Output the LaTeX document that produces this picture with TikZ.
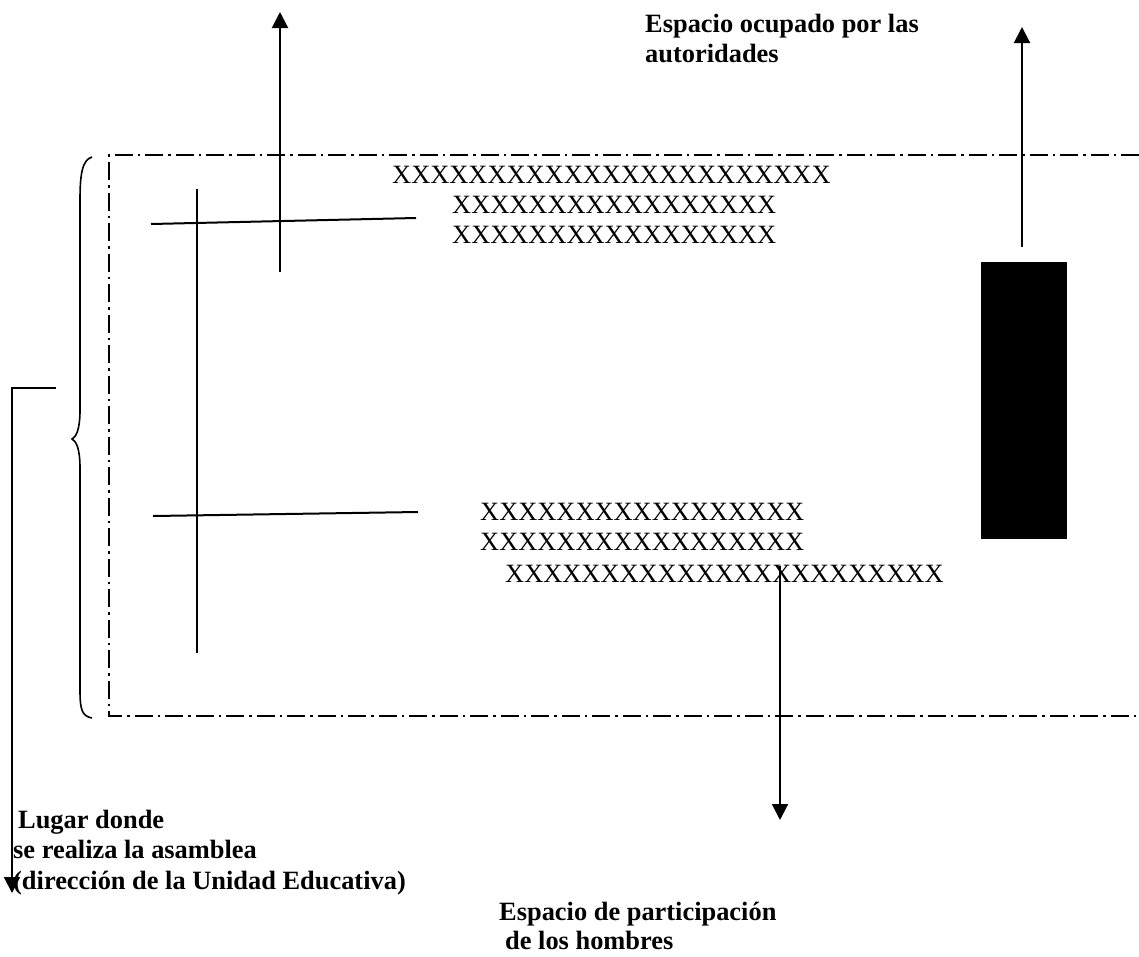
\documentclass[tikz,border=0pt]{standalone}
\usepackage{fontspec}
\setmainfont{Liberation Serif}
\usetikzlibrary{arrows.meta}
\tikzset{
	rotulo/.style ={anchor=base west, inner sep=0pt, font=\fontsize{26.4}{30}\selectfont\bfseries},
	fila/.style   ={anchor=base west, inner sep=0pt, font=\fontsize{26.4}{30}\selectfont},
	linea/.style  ={line width=2pt},
	flecha/.style ={line width=2pt, -{Triangle[length=16pt, width=16pt]}},
	limite/.style ={line width=1.6pt, dash pattern=on 18pt off 5pt on 2.5pt off 5pt},
	llave/.style  ={line width=1.6pt},
}
\begin{document}
\begin{tikzpicture}[x=1pt, y=-1pt]
	\useasboundingbox (0,0) rectangle (1139,956);
	% limite del patio (abierto a la derecha)
	\coordinate (limNE) at (1139,155);
	\coordinate (limNO) at (109,155);
	\coordinate (limSO) at (109,716);
	\coordinate (limSE) at (1139,716);
	\draw[limite] (limNE) -- (limNO) -- (limSO) -- (limSE);
	% llave izquierda
	\draw[llave] (92,157) .. controls (82,160) and (80,175) .. (80,200) -- (80,410)
		.. controls (80,430) and (76,437) .. (72,439)
		.. controls (76,441) and (80,448) .. (80,468) -- (80,690)
		.. controls (80,710) and (82,716) .. (92,718);
	% lugar de la asamblea
	\coordinate (lugA) at (56,388);
	\coordinate (lugB) at (12,388);
	\coordinate (lugC) at (12,893);
	\draw[flecha] (lugA) -- (lugB) -- (lugC);
	\node[rotulo] (lug1) at (18,828) {Lugar donde};
	\node[rotulo] (lug2) at (13,858) {se realiza la asamblea};
	\node[rotulo] (lug3) at (13,889) {(dirección de la Unidad Educativa)};
	% mastil y lineas
	\coordinate (mastA) at (197,189);
	\coordinate (mastB) at (197,653);
	\draw[linea] (mastA) -- (mastB);
	\coordinate (linA1) at (151,224);
	\coordinate (linA2) at (416,218);
	\draw[linea] (linA1) -- (linA2);
	\coordinate (linB1) at (153,516);
	\coordinate (linB2) at (418,512);
	\draw[linea] (linB1) -- (linB2);
	% flecha superior izquierda
	\coordinate (supA) at (280,272);
	\coordinate (supB) at (280,12);
	\draw[flecha] (supA) -- (supB);
	% filas de participantes
	\node[fila] (fil1) at (392,183) {XXXXXXXXXXXXXXXXXXXXXXX};
	\node[fila] (fil2) at (452,213) {XXXXXXXXXXXXXXXXX};
	\node[fila] (fil3) at (452,243) {XXXXXXXXXXXXXXXXX};
	\node[fila] (fil4) at (480,520) {XXXXXXXXXXXXXXXXX};
	\node[fila] (fil5) at (480,550) {XXXXXXXXXXXXXXXXX};
	\node[fila] (fil6) at (505,582) {XXXXXXXXXXXXXXXXXXXXXXX};
	% autoridades
	\node[fill=black, inner sep=0pt, minimum width=86pt, minimum height=277pt, anchor=north west] (mesa) at (981,262) {};
	\coordinate (autB) at (1022,27);
	\draw[flecha] ([yshift=15pt]mesa.north -| autB) -- (autB);
	\node[rotulo] (aut1) at (645,32) {Espacio ocupado por las};
	\node[rotulo] (aut2) at (645,62) {autoridades};
	% hombres
	\coordinate (homA) at (780,566);
	\coordinate (homB) at (780,820);
	\draw[flecha] (homA) -- (homB);
	\node[rotulo] (hom1) at (499,920) {Espacio de participación};
	\node[rotulo] (hom2) at (505,949) {de los hombres};
\end{tikzpicture}
\end{document}
